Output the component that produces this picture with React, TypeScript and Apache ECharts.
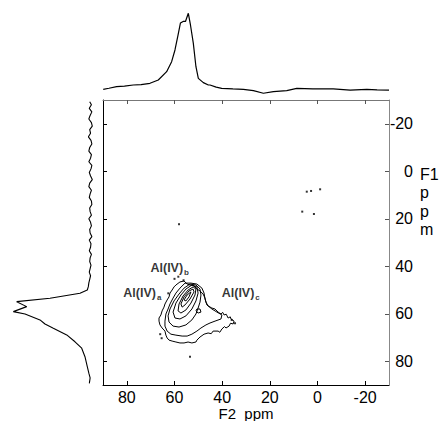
import React, { useEffect, useRef } from 'react';
import * as echarts from 'echarts';

const f2Ticks = [80, 60, 40, 20, 0, -20];
const f1Ticks = [-20, 0, 20, 40, 60, 80];

// top projection: [F2 ppm, intensity]
const topProjection: [number, number][] = [
  [89.9, 5.2], [87.5, 6.4], [84.3, 8.1], [81, 8.7], [77.3, 10.0], [74, 10.4], [70.3, 11.9],
  [66.8, 15.6], [63.3, 24.8], [61.2, 35.9], [59.8, 48.9], [58.5, 65.6], [57.5, 78.9],
  [56.4, 80.6], [55.4, 80.6], [54.2, 89.7], [53.3, 76.7], [52.1, 56.3], [51.0, 30.3],
  [50.0, 17.4], [47.9, 12.6], [45.8, 10.0], [45.1, 10.0], [42.5, 7.6], [40.2, 6.3],
  [35.5, 5.6], [31.1, 5.2], [26.9, 3.7], [22.7, 0.8], [18.5, 2.6], [12.9, 3.7], [8.7, 6.3],
  [2, 5.8], [-6.6, 5.6], [-13.7, 4.4], [-20.7, 5.2], [-25, 4.6], [-30, 4.4],
];

// left projection: [intensity, F1 ppm]
const leftProjection: [number, number][] = [
  [5.0, -29.3], [3.0, -28], [5.5, -26.5], [2.5, -25], [4.5, -23.5], [6.0, -22], [3.0, -20.5],
  [2.0, -19], [5.0, -17.5], [4.0, -16], [6.5, -14.5], [3.5, -13], [2.5, -11.5], [5.0, -10],
  [6.0, -8.5], [3.0, -7], [4.0, -5.5], [6.0, -4], [2.5, -2.5], [3.5, -1], [5.5, 0.5], [4.0, 2],
  [2.0, 3.5], [5.0, 5], [6.0, 6.5], [3.0, 8], [4.5, 9.5], [5.5, 11], [3.0, 12.5], [2.5, 14],
  [5.0, 15.5], [4.5, 17], [3.0, 18.5], [6.0, 20], [4.0, 21.5], [3.0, 23], [5.0, 24.5],
  [4.5, 26], [2.5, 27.5], [5.5, 29], [3.5, 30.5], [4.0, 32], [5.5, 33.5], [3.0, 35],
  [4.5, 36.5], [5.0, 38], [3.5, 39.5], [4.5, 41], [5.5, 42.5], [4.0, 44], [5.0, 45.5],
  [6.0, 47], [6.6, 48.6], [7.8, 50.0], [16.3, 51.4], [51.2, 53.5], [89.9, 54.9], [78.3, 57.0],
  [93.8, 59.1], [80.2, 60.1], [62.8, 62.6], [57.0, 64.3], [47.3, 66.1], [31.7, 68.9],
  [22.1, 71.8], [14.3, 74.5], [10.5, 78.1], [7.8, 82.3], [6.0, 85], [4.5, 87], [5.4, 89.3],
];

// contour levels: [F2 ppm, F1 ppm]
const contour1: [number, number][] = [
  [57.7, 46.6], [56.0, 46.2], [54.7, 47.5], [53.5, 47.9], [51.8, 48.3], [50.6, 49.6], [49.3, 50.4],
  [48.0, 51.7], [47.2, 53.4], [46.8, 55.1], [45.9, 56.7], [44.3, 57.6], [43.0, 58.0], [41.7, 59.3],
  [40.5, 60.1], [39.8, 59.4], [39.2, 60.5], [38.3, 60.2], [37.5, 61.8], [36.6, 61.3], [36.3, 62.2],
  [35.0, 63.1], [35.4, 64.3], [36.5, 64.0], [37.1, 65.2], [38.4, 66.0], [39.0, 65.4], [40.1, 66.4],
  [41.0, 67.8], [41.7, 67.3], [43.8, 67.3], [44.6, 68.4], [45.9, 68.1], [47.6, 68.6], [49.3, 69.8],
  [50.6, 71.1], [51.0, 71.9], [52.7, 72.3], [54.3, 71.9], [56.0, 72.3], [57.7, 72.3], [59.4, 71.9],
  [61.0, 71.5], [62.3, 71.1], [63.1, 70.2], [63.6, 69.0], [64.0, 67.3], [65.2, 66.0], [66.1, 64.7],
  [66.5, 63.1], [66.5, 61.8], [65.7, 60.5], [65.2, 58.8], [64.4, 57.2], [64.0, 55.9], [63.1, 54.2],
  [62.3, 52.9], [61.9, 51.3], [61.0, 50.0], [60.2, 48.7], [59.4, 47.9], [57.7, 46.6],
];
const contour2: [number, number][] = [
  [55.6, 47.1], [53.1, 47.1], [50.6, 47.5], [48.5, 49.2], [47.6, 51.3], [47.2, 53.8], [46.4, 56.3],
  [44.3, 58.0], [42.2, 59.3], [40.1, 60.5], [40.5, 62.2], [43.0, 63.1], [45.1, 63.9], [46.8, 64.7],
  [48.9, 66.0], [50.6, 67.3], [52.7, 68.6], [54.7, 69.4], [56.8, 69.4], [59.4, 69.0], [61.5, 68.6],
  [63.1, 67.3], [64.0, 65.2], [64.0, 63.1], [63.6, 60.1], [62.7, 58.0], [61.9, 55.9], [60.6, 53.4],
  [59.4, 51.3], [57.7, 49.2], [55.6, 47.1],
];
const contour3: [number, number][] = [
  [53.5, 47.5], [51.0, 47.9], [49.3, 49.6], [48.9, 52.1], [49.3, 55.1], [50.1, 57.6], [51.0, 60.1],
  [52.7, 62.6], [55.2, 64.7], [58.1, 65.6], [60.6, 65.2], [62.3, 63.5], [62.7, 60.9], [61.9, 58.0],
  [60.2, 54.6], [58.1, 51.7], [56.0, 49.2], [53.5, 47.5],
];
const contour4: [number, number][] = [
  [52.7, 47.9], [50.6, 48.7], [50.1, 51.3], [51.0, 54.6], [52.7, 58.0], [55.2, 60.9], [57.7, 62.2],
  [59.8, 61.8], [60.6, 59.3], [59.4, 55.5], [57.3, 52.1], [55.2, 49.6], [52.7, 47.9],
];
const contour5: [number, number][] = [
  [52.2, 48.7], [51.0, 49.6], [51.4, 52.1], [53.1, 55.5], [55.2, 58.4], [57.3, 59.7], [58.5, 58.8],
  [58.1, 55.9], [56.4, 52.5], [54.3, 50.0], [52.2, 48.7],
];
const contour6: [number, number][] = [
  [52.2, 49.6], [51.8, 50.8], [53.5, 53.8], [55.6, 56.3], [56.8, 57.2], [57.3, 55.9], [56.0, 52.9],
  [53.9, 50.4], [52.2, 49.6],
];
const contour7: [number, number][] = [
  [53.1, 50.8], [53.9, 52.9], [55.2, 54.6], [56.0, 54.2], [54.7, 52.1], [53.1, 50.8],
];
const contour8: [number, number][] = [
  [50.6, 58.0], [49.3, 58.0], [48.9, 59.3], [50.1, 59.7], [51.0, 58.8], [50.6, 58.0],
];
const contours = [contour1, contour2, contour3, contour4, contour5, contour6, contour7, contour8];

// isolated noise specks: [F2 ppm, F1 ppm]
const specks: [number, number][] = [
  [4.5, 8.6], [2.7, 8.3], [-1.1, 7.6], [6.4, 17.0], [1.5, 18.0], [58.1, 22.3],
  [34.6, 64.0], [53.5, 78.1], [65.4, 70.3], [58.4, 44.4], [62.6, 51.4], [36.0, 62.6],
  [66.0, 68.6], [60.0, 45.3], [56.2, 45.9],
];

// peak labels: [F2 ppm, F1 ppm, subscript]
const peakLabels: [number, number, string][] = [
  [73.5, 51.4, 'a'],
  [62.0, 40.9, 'b'],
  [32.2, 51.4, 'c'],
];

const FONT = 'Liberation Sans, Arial, Helvetica, sans-serif';

export default function App() {
  const ref = useRef<HTMLDivElement>(null);
  useEffect(() => {
    if (!ref.current) return;
    const chart = echarts.init(ref.current, null, { renderer: 'svg' });
    const contourSeries = contours.map((c) => ({
      type: 'line',
      xAxisIndex: 0,
      yAxisIndex: 0,
      data: c,
      showSymbol: false,
      symbol: 'none',
      lineStyle: { color: '#000', width: 1 },
      silent: true,
    }));
    chart.setOption({
      animation: false,
      backgroundColor: '#fff',
      grid: [
        { left: 103, top: 100, width: 286, height: 285, show: false, outerBoundsMode: 'none', containLabel: false },
        { left: 103, top: 4, width: 286, height: 90, show: false, outerBoundsMode: 'none', containLabel: false },
        { left: 8, top: 100, width: 86, height: 285, show: false, outerBoundsMode: 'none', containLabel: false },
      ],
      xAxis: [
        {
          type: 'value', gridIndex: 0, position: 'bottom', min: -30, max: 90, inverse: true,
          axisLine: { show: true, onZero: false, lineStyle: { color: '#000', width: 1 } },
          axisTick: { show: true, inside: true, length: 4, customValues: f2Ticks, lineStyle: { color: '#000' } },
          axisLabel: { customValues: f2Ticks, fontSize: 16, lineHeight: 16, color: '#000', fontFamily: FONT, margin: 4 },
          splitLine: { show: false },
          name: 'F2  ppm', nameLocation: 'middle', nameGap: 21, nameMoveOverlap: false,
          nameTextStyle: { fontSize: 15, lineHeight: 15, color: '#000', fontFamily: FONT },
        },
        {
          type: 'value', gridIndex: 0, position: 'top', min: -30, max: 90, inverse: true,
          axisLine: { show: true, onZero: false, lineStyle: { color: '#777', width: 1 } },
          axisTick: { show: true, inside: true, length: 4, customValues: f2Ticks, lineStyle: { color: '#555' } },
          axisLabel: { show: false },
          splitLine: { show: false },
        },
        {
          type: 'value', gridIndex: 1, min: -30, max: 90, inverse: true, show: false,
        },
        {
          type: 'value', gridIndex: 2, min: 0, max: 100, inverse: true, show: false,
        },
      ],
      yAxis: [
        {
          type: 'value', gridIndex: 0, position: 'right', min: -30, max: 90, inverse: true,
          axisLine: { show: true, onZero: false, lineStyle: { color: '#888', width: 1 } },
          axisTick: { show: true, inside: true, length: 4, customValues: f1Ticks, lineStyle: { color: '#555' } },
          axisLabel: { customValues: f1Ticks, fontSize: 16, color: '#000', fontFamily: FONT, margin: 24, align: 'right' },
          splitLine: { show: false },
        },
        {
          type: 'value', gridIndex: 0, position: 'left', min: -30, max: 90, inverse: true,
          axisLine: { show: true, onZero: false, lineStyle: { color: '#000', width: 1 } },
          axisTick: { show: true, inside: true, length: 4, customValues: f1Ticks, lineStyle: { color: '#000' } },
          axisLabel: { show: false },
          splitLine: { show: false },
        },
        { type: 'value', gridIndex: 1, min: 0, max: 100, show: false },
        { type: 'value', gridIndex: 2, min: -30, max: 90, inverse: true, show: false },
      ],
      graphic: [
        {
          type: 'text',
          left: 420,
          top: 165,
          style: { text: 'F1\np\np\nm', font: `16px ${FONT}`, fill: '#000', lineHeight: 18.5 },
        },
      ],
      series: [
        {
          type: 'line', xAxisIndex: 2, yAxisIndex: 2, data: topProjection, showSymbol: false,
          symbol: 'none', lineStyle: { color: '#000', width: 1.2 }, silent: true,
        },
        {
          type: 'line', xAxisIndex: 3, yAxisIndex: 3, data: leftProjection, showSymbol: false,
          symbol: 'none', lineStyle: { color: '#000', width: 1.1 }, silent: true,
        },
        ...contourSeries,
        {
          type: 'scatter', xAxisIndex: 0, yAxisIndex: 0, data: specks, symbol: 'rect',
          symbolSize: 2, itemStyle: { color: '#000' }, silent: true,
        },
        {
          type: 'scatter', xAxisIndex: 0, yAxisIndex: 0, data: peakLabels, symbolSize: 0, silent: true,
          itemStyle: { color: '#000' },
          label: {
            show: true,
            position: 'inside',
            color: '#000',
            fontWeight: 'bold',
            fontFamily: FONT,
            formatter: (p: any) => `{m|Al(IV)}{s|${p.value[2]}}`,
            rich: {
              m: { fontSize: 12.5, fontWeight: 'bold', fontFamily: FONT, color: '#000', lineHeight: 16, verticalAlign: 'middle' },
              s: { fontSize: 8, fontWeight: 'bold', fontFamily: FONT, color: '#000', lineHeight: 16, verticalAlign: 'bottom', padding: [6, 0, 0, 1] },
            },
          },
        },
      ],
    });
    return () => chart.dispose();
  }, []);
  return (
    <div
      ref={ref}
      style={{ position: 'fixed', left: 0, top: 0, width: 440, height: 421, background: '#fff' }}
    />
  );
}
